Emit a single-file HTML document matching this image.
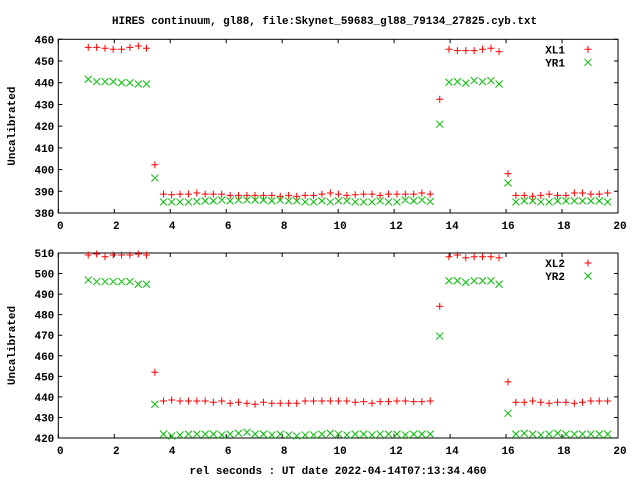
<!DOCTYPE html>
<html><head><meta charset="utf-8"><style>
html,body{margin:0;padding:0;background:#fff}
svg{display:block}
text{font-family:"Liberation Mono",monospace;font-weight:bold;font-size:11px;fill:#000}
</style></head><body>
<svg id="chart" width="640" height="480" viewBox="0 0 640 480" xmlns="http://www.w3.org/2000/svg">
<text x="112" y="24" textLength="425" lengthAdjust="spacingAndGlyphs">HIRES continuum, gl88, file:Skynet_59683_gl88_79134_27825.cyb.txt</text>
<text x="338" y="474" text-anchor="middle">rel seconds : UT date 2022-04-14T07:13:34.460</text>
<g id="p1"></g>
<g id="p2"></g>
</svg>
<script>
const times = [1.07,1.37,1.67,1.96,2.26,2.56,2.86,3.15,3.45,
3.76,4.05,4.35,4.65,4.95,5.25,5.54,5.84,6.14,6.44,6.74,7.03,7.33,7.63,7.93,8.23,8.52,8.82,9.12,9.42,9.72,10.01,10.31,10.61,10.91,11.21,11.50,11.80,12.10,12.40,12.70,12.99,13.29,
13.63,13.96,14.26,14.56,14.86,15.16,15.46,15.75,16.07,
16.35,16.65,16.95,17.24,17.54,17.84,18.14,18.44,18.73,19.03,19.33,19.63];
const xl1 = [456.3,456.3,455.9,455.4,455.4,456.3,456.9,455.9,402.2,
388.7,388.4,388.7,388.7,389.2,388.7,388.7,388.7,388.1,388.1,388.1,388.1,388.1,388.1,387.7,388.1,387.7,388.1,388.1,388.7,389.2,388.7,388.1,388.4,388.7,388.7,388.1,388.7,388.7,388.7,388.7,389.2,388.7,
432.4,455.4,454.8,454.8,454.8,455.4,455.9,454.3,398.1,
388.1,388.1,387.7,388.1,388.7,388.1,388.1,389.2,389.2,388.7,388.7,389.2];
const yr1 = [441.6,440.5,440.5,440.5,440.0,440.0,439.4,439.4,396.1,
385.1,385.1,385.1,385.1,385.3,385.6,385.6,386.0,385.6,386.0,386.0,386.0,386.0,385.6,386.0,385.6,385.6,385.1,385.1,385.6,385.1,385.6,385.6,385.1,385.1,385.1,385.6,385.1,385.1,386.0,385.6,386.0,385.3,
420.9,440.2,440.5,439.8,441.0,440.5,441.0,439.4,393.8,
385.1,385.6,385.6,385.1,385.1,385.6,385.6,385.6,385.6,385.6,385.6,385.1];
const xl2 = [509.0,509.5,508.2,509.0,509.0,509.0,509.5,509.0,452.0,
438.0,438.5,438.0,438.0,438.0,438.0,437.4,438.0,436.9,437.4,436.9,436.4,437.4,436.9,436.9,436.9,436.9,438.0,438.0,438.0,438.0,438.0,438.0,437.4,437.7,436.9,437.7,437.7,438.0,438.0,437.7,437.7,438.0,
484.1,508.2,509.0,507.7,508.2,508.2,508.2,507.7,447.3,
437.4,437.4,438.0,437.4,436.9,437.4,437.4,436.9,437.4,438.0,438.0,438.0];
const yr2 = [496.9,496.1,496.1,496.1,496.1,496.1,494.8,494.8,436.4,
421.9,421.0,421.5,421.9,421.9,421.9,421.9,421.5,421.9,422.3,422.8,421.9,421.9,421.5,421.9,421.5,421.0,421.5,421.5,421.9,422.3,421.9,421.5,421.9,421.9,421.5,421.9,421.9,421.9,421.5,421.9,421.9,421.9,
469.6,496.5,496.5,495.7,496.5,496.5,496.5,494.8,432.0,
421.9,422.3,421.9,421.5,421.9,422.3,421.9,421.9,421.9,421.9,421.9,421.9];
const xTicks = [0,2,4,6,8,10,12,14,16,18,20];
const yTicks1 = [380,390,400,410,420,430,440,450,460];
const yTicks2 = [420,430,440,450,460,470,480,490,500,510];

const NS="http://www.w3.org/2000/svg";
const X0=58.3, X1=618;
function mk(tag, parent, attrs){const e=document.createElementNS(NS,tag);for(const k in attrs)e.setAttribute(k,attrs[k]);parent.appendChild(e);return e;}
function xs(v){return X0+(v-0)/(20-0)*(X1-X0);}

function panel(g, top, bot, ymin, ymax, yTicks, s1, s2, n1, n2){
  const ys=v=>bot-(v-ymin)/(ymax-ymin)*(bot-top);
  const fr=mk('rect',g,{x:X0,y:top,width:X1-X0,height:bot-top,fill:'none',stroke:'#000','stroke-width':1});
  
  
  yTicks.forEach(t=>{
    const y=ys(t);
    const l=mk('path',g,{d:`M${X0} ${y}h4M${X1} ${y}h-4`,stroke:'#000','stroke-width':1});
    
    
    const tx=mk('text',g,{x:X0-4,y:y+4,'text-anchor':'end'});
    tx.textContent=t;
    
    
  });
  xTicks.forEach(t=>{
    const x=xs(t);
    const l=mk('path',g,{d:`M${x} ${bot}v-4M${x} ${top}v4`,stroke:'#000','stroke-width':1});
    
    
    const tx=mk('text',g,{x:x+2,y:bot+16,'text-anchor':'middle'});
    tx.textContent=t;
    
    
  });
  const yl=mk('text',g,{x:0,y:0,'text-anchor':'middle',transform:`translate(15 ${(top+bot)/2}) rotate(-90)`});
  yl.textContent='Uncalibrated';
  
  
  const plus=(x,y)=>`M${x-3.5} ${y}h7M${x} ${y-3.5}v7`;
  const cross=(x,y)=>`M${x-3.5} ${y-3.5}l7 7M${x-3.5} ${y+3.5}l7 -7`;
  let d1='',d2='';
  times.forEach((t,i)=>{d1+=plus(xs(t),ys(s1[i]));d2+=cross(xs(t),ys(s2[i]));});
  const p1=mk('path',g,{d:d1,stroke:'#ff0000','stroke-width':1,fill:'none'});
  
  
  const p2=mk('path',g,{d:d2,stroke:'#00c000','stroke-width':1,fill:'none'});
  
  
  [[n1,'#ff0000',plus],[n2,'#00c000',cross]].forEach((e,k)=>{
    const y=top+10+k*13;
    const lt=mk('text',g,{x:565,y:y+4,'text-anchor':'end'});
    lt.textContent=e[0];
    
    
    const lm=mk('path',g,{d:e[2](588,y),stroke:e[1],'stroke-width':1,fill:'none'});
    
    
  });
}
panel(document.getElementById('p1'),39.3,213,380,460,yTicks1,xl1,yr1,'XL1','YR1');
panel(document.getElementById('p2'),253,438,420,510,yTicks2,xl2,yr2,'XL2','YR2');
</script>
</body></html>
